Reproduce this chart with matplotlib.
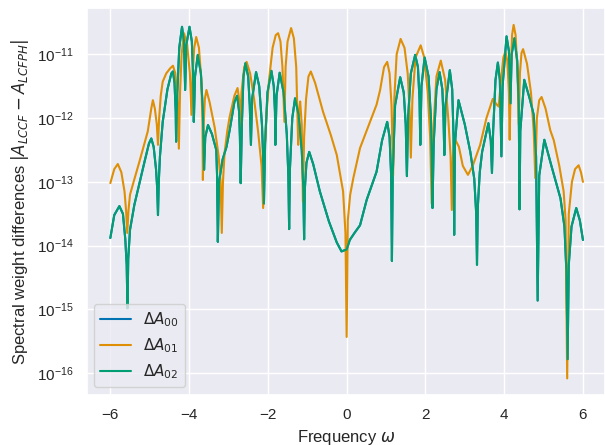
import numpy as np
import matplotlib
matplotlib.use("Agg")
import matplotlib.pyplot as plt
import seaborn as sns

# ---- data (frequency, log10 of |difference|) ----
omega_01 = [-6.00, -5.90, -5.81, -5.72, -5.64, -5.60, -5.57, -5.54, -5.50, -5.40,
            -5.26, -5.05, -4.96, -4.92, -4.87, -4.82, -4.79, -4.76, -4.72, -4.67,
            -4.58, -4.48, -4.41, -4.35, -4.29, -4.26, -4.23, -4.19, -4.13, -4.05,
            -3.98, -3.94, -3.91, -3.87, -3.82, -3.75, -3.69, -3.66, -3.65, -3.63,
            -3.60, -3.56, -3.48, -3.35, -3.25, -3.20, -3.17, -3.14, -3.10, -3.03,
            -2.97, -2.85, -2.77, -2.73, -2.70, -2.67, -2.60, -2.54, -2.45, -2.35,
            -2.25, -2.16, -2.12, -2.09, -2.04, -1.97, -1.88, -1.80, -1.74, -1.68,
            -1.63, -1.58, -1.55, -1.50, -1.41, -1.34, -1.28, -1.23, -1.21, -1.18,
            -1.14, -1.11, -1.08, -1.03, -0.97, -0.91, -0.80, -0.60, -0.40, -0.25,
            -0.09, -0.03, 0.00, 0.03, 0.09, 0.17, 0.34, 0.55, 0.76, 0.85,
            0.95, 1.03, 1.09, 1.14, 1.18, 1.21, 1.27, 1.37, 1.47, 1.55,
            1.60, 1.63, 1.67, 1.75, 1.88, 1.97, 2.06, 2.12, 2.16, 2.20,
            2.28, 2.39, 2.50, 2.58, 2.64, 2.67, 2.70, 2.75, 2.85, 2.95,
            3.08, 3.20, 3.39, 3.55, 3.71, 3.80, 3.86, 3.92, 3.98, 4.03,
            4.08, 4.12, 4.14, 4.17, 4.20, 4.24, 4.29, 4.34, 4.37, 4.40,
            4.44, 4.48, 4.58, 4.68, 4.75, 4.79, 4.83, 4.89, 4.95, 5.05,
            5.17, 5.26, 5.40, 5.51, 5.56, 5.60, 5.64, 5.72, 5.80, 5.89,
            5.95, 6.00]
logdA_01 = [-13.02, -12.80, -12.72, -12.85, -13.15, -13.45, -13.80, -13.45, -13.20, -12.98,
            -12.68, -12.21, -11.85, -11.72, -11.85, -12.10, -12.42, -12.00, -11.65, -11.43,
            -11.30, -11.22, -11.18, -11.30, -11.75, -12.48, -11.60, -11.00, -10.67, -10.85,
            -11.30, -11.95, -11.30, -10.90, -10.73, -10.90, -11.40, -12.10, -12.97, -12.10,
            -11.70, -11.56, -11.75, -12.15, -12.60, -13.00, -13.80, -13.00, -12.55, -12.20,
            -11.98, -11.65, -11.53, -11.70, -12.30, -11.60, -11.20, -11.12, -11.30, -11.70,
            -12.20, -12.75, -13.41, -12.60, -12.00, -11.40, -10.90, -10.70, -10.67, -10.80,
            -11.20, -12.06, -11.20, -10.80, -10.59, -10.75, -11.20, -12.42, -11.90, -11.74,
            -12.10, -13.31, -12.30, -11.70, -11.35, -11.27, -11.45, -11.90, -12.27, -12.58,
            -13.15, -13.80, -15.43, -13.60, -13.20, -12.94, -12.47, -12.13, -11.79, -11.56,
            -11.20, -11.12, -11.30, -11.80, -12.90, -11.70, -11.00, -10.76, -10.90, -11.30,
            -11.90, -12.62, -11.70, -11.05, -10.86, -11.05, -11.60, -12.30, -13.34, -12.20,
            -11.35, -11.10, -11.40, -12.00, -12.60, -13.44, -12.60, -12.33, -12.45, -12.75,
            -12.89, -12.75, -12.42, -12.00, -11.70, -11.78, -11.82, -11.40, -11.05, -10.96,
            -11.10, -11.60, -12.34, -11.30, -10.70, -10.54, -10.70, -11.30, -12.10, -11.30,
            -10.98, -10.92, -11.15, -11.60, -12.20, -12.94, -12.00, -11.72, -11.67, -11.85,
            -12.19, -12.35, -12.75, -13.15, -13.60, -16.08, -13.50, -13.00, -12.80, -12.74,
            -12.85, -13.00]

omega_02 = [-6.00, -5.90, -5.77, -5.68, -5.62, -5.585, -5.565, -5.545, -5.50, -5.39,
            -5.13, -5.02, -4.96, -4.90, -4.84, -4.81, -4.79, -4.77, -4.74, -4.67,
            -4.55, -4.45, -4.41, -4.37, -4.34, -4.33, -4.30, -4.25, -4.18, -4.13,
            -4.10, -4.07, -3.99, -3.93, -3.90, -3.88, -3.85, -3.78, -3.70, -3.65,
            -3.62, -3.59, -3.52, -3.42, -3.31, -3.29, -3.27, -3.24, -3.15, -3.05,
            -2.97, -2.85, -2.78, -2.73, -2.71, -2.69, -2.66, -2.62, -2.57, -2.50,
            -2.46, -2.43, -2.40, -2.30, -2.22, -2.15, -2.12, -2.10, -2.07, -2.01,
            -1.91, -1.85, -1.82, -1.81, -1.78, -1.70, -1.60, -1.52, -1.48, -1.46,
            -1.44, -1.38, -1.31, -1.22, -1.14, -1.10, -1.08, -1.06, -1.02, -0.95,
            -0.85, -0.68, -0.45, -0.25, -0.13, 0.00, 0.08, 0.20, 0.34, 0.51,
            0.76, 0.90, 1.03, 1.09, 1.13, 1.15, 1.17, 1.23, 1.36, 1.45,
            1.50, 1.53, 1.56, 1.63, 1.74, 1.81, 1.85, 1.87, 1.90, 1.98,
            2.08, 2.14, 2.16, 2.18, 2.21, 2.28, 2.36, 2.43, 2.46, 2.48,
            2.51, 2.62, 2.68, 2.715, 2.73, 2.75, 2.84, 3.00, 3.14, 3.24,
            3.29, 3.31, 3.33, 3.38, 3.44, 3.60, 3.66, 3.69, 3.72, 3.78,
            3.84, 3.89, 3.93, 3.96, 4.06, 4.12, 4.16, 4.19, 4.26, 4.33,
            4.37, 4.39, 4.41, 4.51, 4.65, 4.75, 4.81, 4.85, 4.89, 5.02,
            5.20, 5.43, 5.53, 5.58, 5.61, 5.64, 5.71, 5.83, 5.92, 6.00]
logdA_02 = [-13.88, -13.52, -13.38, -13.50, -13.90, -14.30, -14.98, -14.20, -13.75, -13.36,
            -12.68, -12.40, -12.32, -12.45, -12.80, -13.10, -13.52, -13.00, -12.60, -12.06,
            -11.55, -11.30, -11.27, -11.45, -11.90, -12.37, -11.60, -10.90, -10.57, -10.80,
            -11.56, -10.85, -10.57, -10.80, -11.30, -12.06, -11.35, -11.01, -11.30, -11.90,
            -12.81, -12.30, -12.11, -12.25, -12.50, -12.90, -13.94, -13.00, -12.65, -12.45,
            -12.19, -11.75, -11.65, -11.90, -12.30, -13.02, -12.10, -11.35, -11.14, -11.35,
            -11.80, -12.42, -11.70, -11.28, -11.50, -12.10, -12.60, -13.34, -12.40, -11.60,
            -11.26, -11.50, -11.90, -12.42, -11.65, -11.29, -11.60, -12.25, -12.90, -13.74,
            -12.80, -12.00, -11.69, -11.95, -12.50, -13.10, -13.90, -13.10, -12.70, -12.53,
            -12.72, -13.15, -13.62, -13.95, -14.09, -14.06, -13.91, -13.80, -13.68, -13.28,
            -12.84, -12.35, -12.06, -12.30, -12.90, -14.24, -12.90, -11.80, -11.36, -11.60,
            -12.10, -12.91, -12.00, -11.30, -11.01, -11.20, -11.70, -12.42, -11.50, -11.05,
            -11.35, -12.00, -12.60, -13.41, -12.40, -11.55, -11.28, -11.55, -12.00, -12.58,
            -11.80, -11.25, -11.55, -12.30, -13.83, -12.40, -11.72, -12.10, -12.53, -12.95,
            -13.50, -14.30, -13.40, -12.85, -12.53, -12.08, -12.35, -12.86, -12.20, -11.40,
            -11.13, -11.40, -12.60, -11.50, -10.72, -10.95, -11.77, -11.00, -10.75, -11.10,
            -11.80, -13.43, -12.20, -11.40, -11.70, -11.95, -12.60, -14.86, -12.90, -12.34,
            -12.75, -13.26, -13.70, -14.40, -15.78, -14.30, -13.70, -13.41, -13.60, -13.91]

# Delta A_00 is hidden exactly under Delta A_02 in the reference
omega_00 = list(omega_02)
logdA_00 = list(logdA_02)

labels = [r"$\Delta A_{00}$", r"$\Delta A_{01}$", r"$\Delta A_{02}$"]

sns.set_theme(style="darkgrid", palette="colorblind")
plt.rcParams["font.family"] = ["Liberation Sans", "DejaVu Sans"]

fig = plt.figure(figsize=(6.05, 4.45), dpi=100)
ax = fig.add_axes([86.7 / 605, 50 / 445, (605 - 86.7) / 605, 386.7 / 445])

colors = sns.color_palette("colorblind")
for om, lg, lab, c in zip([omega_00, omega_01, omega_02],
                          [logdA_00, logdA_01, logdA_02], labels, colors[:3]):
    ax.plot(om, 10.0 ** np.asarray(lg), label=lab, color=c, lw=1.5)

ax.set_yscale("log")
ax.set_xlim(-6.6, 6.56)
ax.set_ylim(10 ** -16.34, 10 ** -10.28)
ax.set_xticks([-6, -4, -2, 0, 2, 4, 6])
ax.set_xlabel(r"Frequency $\omega$")
ax.set_ylabel(r"Spectral weight differences $|A_{LCCF} - A_{LCFPH}|$")
ax.legend(loc="lower left")

fig.savefig("out.png", dpi=100)
